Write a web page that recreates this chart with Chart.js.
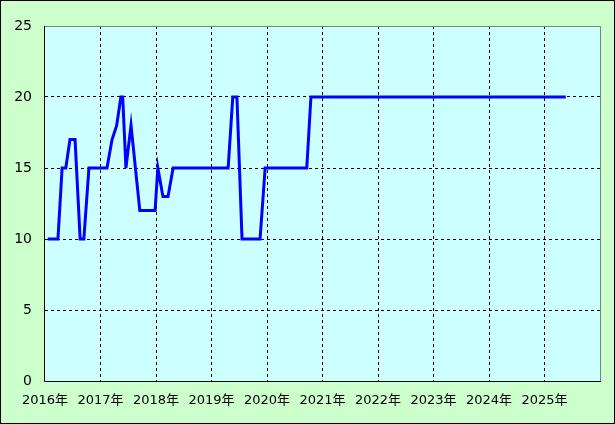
<!DOCTYPE html>
<html>
<head>
<meta charset="utf-8">
<script src="https://cdn.jsdelivr.net/npm/chart.js@4/dist/chart.umd.min.js"></script>
<style>
  html, body { margin: 0; padding: 0; background: #ccffcc; }
  #wrap { width: 615px; height: 424px; }
</style>
</head>
<body>
<div id="wrap"><canvas id="mycanvas" width="615" height="424"></canvas></div>
<script>
// months counted from 2016-01
var months = [0.6, 2.8, 3.7, 4.5, 5.4, 6.5, 7.6, 8.4, 9.5, 13.4, 14.5, 15.5, 16.4, 16.8,
              17.5, 18.6, 20.5, 23.8, 24.4, 25.5, 26.6, 27.7, 39.6, 40.6, 41.5, 42.6,
              46.5, 47.6, 56.6, 57.5, 112.6];
var values = [10, 10, 15, 15, 17, 17, 10, 10, 15, 15, 17, 18, 20, 20,
              15, 18, 12, 12, 15, 13, 13, 15, 15, 20, 20, 10,
              10, 15, 15, 20, 20];
var startYear = 2016;
var yearCount = 10;
var yTicks = [0, 5, 10, 15, 20, 25];

var points = [];
for (var i in months) {
    points.push({ x: months[i], y: values[i] });
}

var frame = {
    id: 'frame',
    beforeDraw: function (chart) {
        var c = chart.ctx, a = chart.chartArea;
        c.save();
        c.fillStyle = '#ccffcc';
        c.fillRect(0, 0, chart.width, chart.height);
        c.fillStyle = '#ccffff';
        c.fillRect(a.left, a.top, a.right - a.left, a.bottom - a.top);
        c.restore();
    },
    afterDraw: function (chart) {
        var c = chart.ctx, a = chart.chartArea;
        c.save();
        c.lineWidth = 1;
        c.strokeStyle = '#808080';
        c.beginPath();
        c.moveTo(a.left, a.top + 0.5);
        c.lineTo(a.right + 0.5, a.top + 0.5);
        c.lineTo(a.right + 0.5, a.bottom);
        c.stroke();
        c.strokeStyle = '#000000';
        c.beginPath();
        c.moveTo(a.left - 0.5, a.top);
        c.lineTo(a.left - 0.5, a.bottom + 0.5);
        c.lineTo(a.right + 1, a.bottom + 0.5);
        c.stroke();
        c.strokeRect(0.5, 0.5, chart.width - 1, chart.height - 1);
        c.restore();
    }
};

var ctx = document.getElementById('mycanvas');
var lineGraph = new Chart(ctx, {
    type: 'line',
    data: {
        datasets: [{
            data: points,
            borderColor: '#0000ff',
            borderWidth: 3,
            pointRadius: 0,
            tension: 0,
            fill: false
        }]
    },
    options: {
        responsive: false,
        animation: false,
        events: [],
        layout: { padding: { left: 0, right: 15, top: 26, bottom: 0 } },
        plugins: { legend: { display: false }, tooltip: { enabled: false } },
        scales: {
            x: {
                type: 'linear',
                min: 0,
                max: yearCount * 12,
                afterBuildTicks: function (scale) {
                    scale.ticks = [];
                    for (var k = 0; k <= yearCount; k++) scale.ticks.push({ value: k * 12 });
                },
                afterFit: function (scale) { scale.height = 43; },
                grid: {
                    drawTicks: false,
                    color: function (c) {
                        var v = c.tick ? c.tick.value : 0;
                        return (v === 0 || v === yearCount * 12) ? 'rgba(0,0,0,0)' : '#000000';
                    }
                },
                border: { display: false, dash: [3, 3] },
                ticks: {
                    padding: 12,
                    maxRotation: 0,
                    autoSkip: false,
                    color: '#000000',
                    font: { family: '"DejaVu Sans", "Noto Sans CJK JP", sans-serif', size: 13 },
                    callback: function (v) {
                        if (v >= yearCount * 12) return '';
                        return (startYear + v / 12) + '年';
                    }
                }
            },
            y: {
                min: 0,
                max: 25,
                afterBuildTicks: function (scale) {
                    scale.ticks = yTicks.map(function (v) { return { value: v }; });
                },
                afterFit: function (scale) { scale.width = 45; },
                grid: {
                    drawTicks: false,
                    color: function (c) {
                        var v = c.tick ? c.tick.value : 0;
                        return (v === 0 || v === 25) ? 'rgba(0,0,0,0)' : '#000000';
                    }
                },
                border: { display: false, dash: [3, 3] },
                ticks: {
                    padding: 13,
                    color: '#000000',
                    font: { family: '"DejaVu Sans", sans-serif', size: 14 }
                }
            }
        }
    },
    plugins: [frame]
});
</script>
</body>
</html>
